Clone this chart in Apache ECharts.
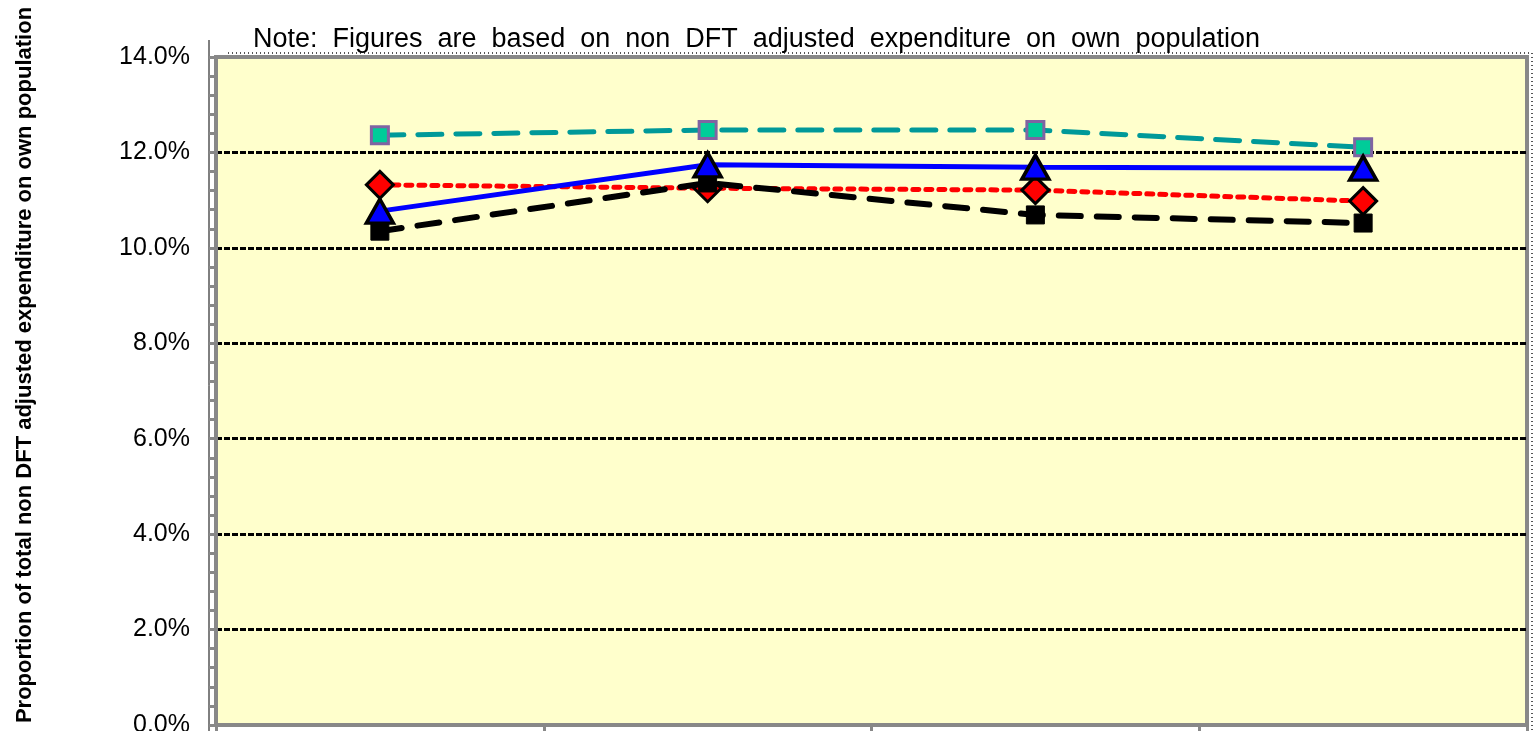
<!DOCTYPE html>
<html>
<head>
<meta charset="utf-8">
<script src="https://cdn.jsdelivr.net/npm/echarts@6/dist/echarts.min.js"></script>
<style>
html,body{margin:0;padding:0;background:#fff;overflow:hidden;}
#chart{width:1540px;height:731px;}
</style>
</head>
<body>
<div id="chart"></div>
<script>
// Data (values in percent)
var categories = ['1', '2', '3', '4'];
var seriesTeal  = [12.36, 12.47, 12.47, 12.11];
var seriesBlue  = [10.77, 11.74, 11.69, 11.67];
var seriesRed   = [11.32, 11.25, 11.21, 10.98];
var seriesBlack = [10.35, 11.36, 10.69, 10.52];
var titleText = 'Note: Figures are based on non DFT adjusted expenditure  on own population';
var yAxisTitle = 'Proportion of total non DFT adjusted expenditure on own population';

var chart = echarts.init(document.getElementById('chart'));
var option = {
  animation: false,
  backgroundColor: '#ffffff',
  title: {
    text: titleText.replace(/(\S) (\S)/g, '$1  $2').replace(/(\S) (\S)/g, '$1  $2'),
    left: 248, top: 21,
    textStyle: {fontFamily: 'Liberation Sans, Arial, sans-serif', fontSize: 27, fontWeight: 'normal', color: '#000'}
  },
  graphic: [
    {
      type: 'text', x: 25, y: 365, rotation: Math.PI / 2,
      style: {
        text: yAxisTitle,
        font: 'bold 22px "Liberation Sans", Arial, sans-serif',
        fill: '#000', textAlign: 'center', textVerticalAlign: 'middle'
      }
    },
    {
      type: 'line', shape: {x1: 209, y1: 40, x2: 209, y2: 731},
      style: {stroke: '#000', lineWidth: 1}
    },
    {
      type: 'polyline', shape: {points: [[228, 53], [1532, 53], [1532, 731]]},
      style: {stroke: '#555', lineWidth: 2, lineDash: [1, 3], fill: null}
    }
  ],
  grid: {
    left: 216, right: 13, top: 57, bottom: 6,
    outerBoundsMode: 'none', containLabel: false,
    show: true, backgroundColor: '#FFFFCC', borderColor: '#888888', borderWidth: 4
  },
  xAxis: {
    type: 'category', data: categories, boundaryGap: true,
    axisLine: {lineStyle: {color: '#888888', width: 4}},
    axisTick: {show: true, inside: false, length: 7, lineStyle: {color: '#888888', width: 3}},
    axisLabel: {show: false},
    splitLine: {show: false}
  },
  yAxis: {
    type: 'value', min: 0, max: 14, interval: 2,
    axisLine: {show: true, lineStyle: {color: '#888888', width: 4}},
    axisTick: {show: true, length: 7, lineStyle: {color: '#888888', width: 3}},
    minorTick: {show: true, splitNumber: 5, length: 7, lineStyle: {color: '#888888', width: 3}},
    axisLabel: {
      margin: 26, color: '#000', fontSize: 25,
      fontFamily: 'Liberation Sans, Arial, sans-serif',
      formatter: function (v) { return v.toFixed(1) + '%'; }
    },
    splitLine: {show: true, showMinLine: false, showMaxLine: false,
      lineStyle: {color: '#000', width: 3, type: [6, 2]}}
  },
  series: [
    {
      name: 'Teal', type: 'line', data: seriesTeal, z: 3,
      symbol: 'rect', symbolSize: 17,
      lineStyle: {color: '#009999', width: 5, type: [24, 14], cap: 'round'},
      itemStyle: {color: '#00CC99', borderColor: '#8064A2', borderWidth: 3}
    },
    {
      name: 'Red', type: 'line', data: seriesRed, z: 4,
      symbol: 'diamond', symbolSize: [27, 27],
      lineStyle: {color: '#FF0000', width: 5, type: [6, 7], cap: 'round'},
      itemStyle: {color: '#FF0000', borderColor: '#000', borderWidth: 3}
    },
    {
      name: 'Black', type: 'line', data: seriesBlack, z: 5,
      symbol: 'rect', symbolSize: 18,
      lineStyle: {color: '#000', width: 6, type: [22, 16], cap: 'round'},
      itemStyle: {color: '#000', borderColor: '#000', borderWidth: 1}
    },
    {
      name: 'Blue', type: 'line', data: seriesBlue, z: 6,
      symbol: 'triangle', symbolSize: [27, 24],
      lineStyle: {color: '#0000FF', width: 5, type: 'solid'},
      itemStyle: {color: '#0000FF', borderColor: '#000', borderWidth: 3.5}
    }
  ]
};
chart.setOption(option);
</script>
</body>
</html>
